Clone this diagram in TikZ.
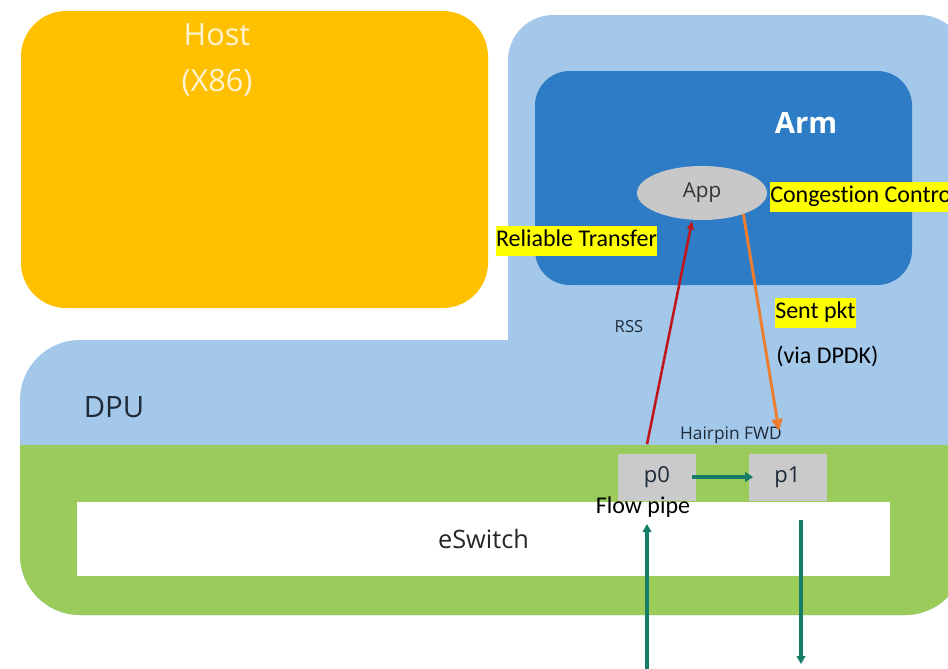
\documentclass[tikz,border=0pt]{standalone}
\usepackage{fontspec}
\setmainfont{Carlito}[Ligatures=NoCommon]
\newfontfamily\seg{Open Sans}
\usetikzlibrary{arrows.meta,calc,shapes.geometric}
\definecolor{hostc}{HTML}{FFC000}
\definecolor{dpuc}{HTML}{A4C8EA}
\definecolor{armc}{HTML}{2E7CC5}
\definecolor{swc}{HTML}{9BCB5B}
\definecolor{portc}{HTML}{CACACA}
\definecolor{appc}{HTML}{C8C8C8}
\definecolor{tealc}{HTML}{157C66}
\definecolor{redc}{HTML}{C0161B}
\definecolor{orc}{HTML}{ED7D31}
\definecolor{txtc}{HTML}{1F2A38}
\definecolor{hostt}{HTML}{FFF3D0}
\definecolor{hl}{HTML}{FFFF00}
\begin{document}
\begin{tikzpicture}[x=0.75pt,y=-0.75pt,
  hilite/.style={fill=hl, inner xsep=0pt, inner ysep=2pt, text height=13.5pt, text depth=5pt, font=\fontsize{18}{20}\selectfont},
  plain/.style={inner sep=0pt, font=\fontsize{18}{20}\selectfont},
  port/.style={fill=portc, minimum width=58.5pt, minimum height=35.25pt, inner sep=0pt, font=\seg\fontsize{16.5}{20}\selectfont, text=txtc},
  small/.style={inner sep=0pt, font=\seg\fontsize{13}{15}\selectfont, text=txtc},
  teal/.style={tealc, line width=2.3pt, -{Triangle[length=6pt,width=6.5pt]}}
]
\useasboundingbox (0,0) rectangle (948,668);
\fill[white] (0,0) rectangle (948,668);
\begin{scope}
\clip (0,0) rectangle (948,668);
% Host
\node[fill=hostc, rounded corners=34pt, minimum width=350.25pt, minimum height=222.75pt, inner sep=0pt] (host) at (254.5,159.5) {};
\node[text=hostt, align=center, inner sep=0pt, font=\seg\fontsize{23}{34.5}\selectfont] (hosttxt) at (217,60) {Host\\(X86)};
% DPU body
\fill[dpuc, rounded corners=34pt] (508,15) rectangle (965,500);
\fill[dpuc, rounded corners=45pt] (20,340) rectangle (965,615);
\begin{scope}
\clip (0,445) rectangle (970,700);
\fill[swc, rounded corners=45pt] (20,340) rectangle (965,615);
\end{scope}
\node[text=txtc, inner sep=0pt, font=\seg\fontsize{22}{26}\selectfont] (dputxt) at (114,407) {DPU};
% Arm
\node[fill=armc, rounded corners=26pt, minimum width=282.75pt, minimum height=160.5pt, inner sep=0pt] (arm) at (723.5,178) {};
\node[text=white, inner sep=0pt, font=\seg\bfseries\fontsize{22}{26}\selectfont] (armtxt) at (806,123) {Arm};
% App
\node[ellipse, fill=appc, minimum width=97.5pt, minimum height=40.5pt, inner sep=0pt, text=black!80, font=\seg\fontsize{15.5}{18}\selectfont] (App) at (702,193) {App};
% eSwitch
\node[fill=white, minimum width=609.75pt, minimum height=55.5pt, inner sep=0pt, text=black!85, font=\seg\fontsize{19}{22}\selectfont] (sw) at (483.5,539) {eSwitch};
% ports
\node[port] (p0) at (657,477) {p0};
\node[port] (p1) at (787.5,477) {p1};
% labels
\node[small] (hairpin) at (731,435) {Hairpin FWD};
\node[small, font=\seg\fontsize{12.5}{15}\selectfont] (rss) at (629,327) {RSS};
\node[hilite] (rel) at (576.5,241) {Reliable Transfer};
\node[hilite, anchor=west] (cong) at (770,197) {Congestion Control};
\node[hilite, anchor=west] (sent) at (775,313) {Sent pkt~};
\node[plain, anchor=west] (dpdk) at (776,356) {(via DPDK)};
\node[plain] (flow) at (643,507) {Flow pipe};
% coordinates
\coordinate (hp) at (779,431);
\coordinate (inA) at (647,672);
\coordinate (inAtop) at (647,524);
\coordinate (outA) at (801,520);
\coordinate (outAbot) at (801,664);
% arrows
\draw[redc, line width=1.9pt, -{Triangle[length=6pt,width=5pt]}] ($(p0.north)+(-10,-9)$) -- ($(App.south)+(-10,1)$);
\draw[orc, line width=2.2pt, -{Triangle[length=9pt,width=8pt]}] (App.-27) -- (hp);
\draw[tealc, line width=3pt, -{Triangle[length=6pt,width=7pt]}] ($(p0.east)+(-4,0)$) -- ($(p1.west)+(5,0)$);
\draw[teal] (inA) -- (inAtop);
\draw[teal] (outA) -- (outAbot);
\end{scope}
\end{tikzpicture}
\end{document}
